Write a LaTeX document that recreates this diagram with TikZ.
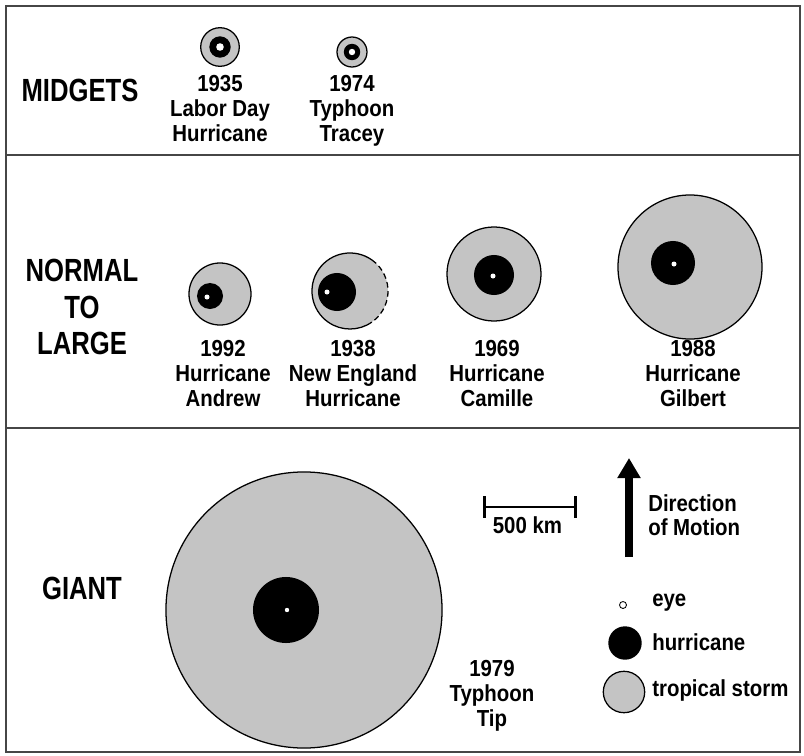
\documentclass[tikz,border=0pt]{standalone}
\usepackage{fontspec}
\setmainfont{Liberation Sans}[FakeStretch=0.88]
\newfontfamily\fonteTitulo{Liberation Sans}[FakeStretch=0.80]
\usetikzlibrary{arrows.meta, positioning}
\definecolor{cinza}{RGB}{196, 196, 196}
\definecolor{moldura}{RGB}{70, 70, 70}
\tikzset{
  secao/.style={
    font=\fonteTitulo\bfseries\fontsize{22.8}{26.2}\selectfont,
    align=center, inner sep=0pt
  },
  nome/.style={font=\bfseries\fontsize{16.5}{17.8}\selectfont, align=center, inner sep=0pt, anchor=north},
  chave/.style={font=\bfseries\fontsize{16.5}{17.5}\selectfont, align=left, inner sep=0pt},
  tempestade/.style={circle, draw, fill=cinza, line width=0.9pt, inner sep=0pt, outer sep=0pt},
  furacao/.style={circle, fill=black, inner sep=0pt, outer sep=0pt},
  olho/.style={circle, fill=white, inner sep=0pt, outer sep=0pt},
  divisa/.style={draw=moldura, line width=1.6pt},
  contorno/.style={line width=0.9pt},
}

\begin{document}
\begin{tikzpicture}[x=0.025cm, y=-0.025cm]
  \useasboundingbox (0,0) rectangle (804,756);

  % moldura e divisoes
  \coordinate (cantoA) at (6,6);
  \coordinate (cantoB) at (800,752);
  \coordinate (div1e) at (6,155);
  \coordinate (div1d) at (800,155);
  \coordinate (div2e) at (6,428);
  \coordinate (div2d) at (800,428);
  \draw[divisa] (cantoA) rectangle (cantoB);
  \draw[divisa] (div1e) -- (div1d);
  \draw[divisa] (div2e) -- (div2d);

  % titulos das secoes
  \node[secao] (midgets) at (80,90) {MIDGETS};
  \node[secao] (normal) at (82,307) {NORMAL\\TO\\LARGE};
  \node[secao] (giant) at (82,588.5) {GIANT};

  % midgets
  \node[tempestade, minimum size=0.965cm] (laborT) at (220,47) {};
  \node[furacao, minimum size=0.535cm] (laborH) at (laborT) {};
  \node[olho, minimum size=0.19cm] (laborO) at (laborT) {};
  \node[nome] (laborN) at (220,75) {1935\\Labor Day\\Hurricane};

  \node[tempestade, minimum size=0.75cm] (traceyT) at (352,52) {};
  \node[furacao, minimum size=0.41cm] (traceyH) at (traceyT) {};
  \node[olho, minimum size=0.16cm] (traceyO) at (traceyT) {};
  \node[nome] (traceyN) at (352,75) {1974\\Typhoon\\Tracey};

  % normal a grande
  \node[tempestade, minimum size=1.55cm] (andrewT) at (220,294) {};
  \node[furacao, minimum size=0.65cm] (andrewH) at (210,296) {};
  \node[olho, minimum size=0.125cm] (andrewO) at (207,297) {};
  \node[nome] (andrewN) at (223,340) {1992\\Hurricane\\Andrew};

  \node[tempestade, draw=none, minimum size=1.9cm] (neT) at (350,291) {};
  \draw[contorno] (neT.55) arc[start angle=55, end angle=305, radius=0.95cm];
  \draw[contorno, dash pattern=on 4pt off 2.5pt] (neT.55) arc[start angle=55, end angle=-55, radius=0.95cm];
  \node[furacao, minimum size=0.95cm] (neH) at (337,292) {};
  \node[olho, minimum size=0.125cm] (neO) at (327,292) {};
  \node[nome] (neN) at (353,340) {1938\\New England\\Hurricane};

  \node[tempestade, minimum size=2.35cm] (camilleT) at (494,274) {};
  \node[furacao, minimum size=1.0cm] (camilleH) at (494,275) {};
  \node[olho, minimum size=0.125cm] (camilleO) at (493,276) {};
  \node[nome] (camilleN) at (497,340) {1969\\Hurricane\\Camille};

  \node[tempestade, minimum size=3.6cm] (gilbertT) at (690,267) {};
  \node[furacao, minimum size=1.1cm] (gilbertH) at (673,263) {};
  \node[olho, minimum size=0.125cm] (gilbertO) at (674,264) {};
  \node[nome] (gilbertN) at (693,340) {1988\\Hurricane\\Gilbert};

  % gigante
  \node[tempestade, minimum size=6.9cm] (tipT) at (304,610) {};
  \node[furacao, minimum size=1.65cm] (tipH) at (286,610) {};
  \node[olho, minimum size=0.11cm] (tipO) at (287,610) {};
  \node[nome] (tipN) at (492,660) {1979\\Typhoon\\Tip};

  % escala
  \coordinate (escalaA) at (483,507);
  \coordinate (escalaB) at (577,507);
  \draw[line width=2pt, {Bar[width=0.53cm]}-{Bar[width=0.53cm]}] (escalaA) -- (escalaB);
  \node[chave] (escalaN) at (527.5,525.5) {500 km};

  % direcao
  \coordinate (setaBase) at (629,557);
  \coordinate (setaPonta) at (629,458);
  \draw[line width=0.2cm, -{Triangle[length=0.5cm, width=0.55cm]}] (setaBase) -- (setaPonta);
  \node[chave, anchor=north west] (direcao) at (648,494) {Direction\\of Motion};

  % legenda
  \node[olho, draw, line width=0.6pt, minimum size=0.175cm] (legOlho) at (623,605) {};
  \node[furacao, minimum size=0.835cm] (legFuracao) at (625,643) {};
  \node[tempestade, minimum size=1.035cm] (legTempestade) at (624,692) {};
  \node[chave, anchor=west] (legOlhoN) at (652,603) {eye};
  \node[chave, anchor=west] (legFuracaoN) at (652,642) {hurricane};
  \node[chave, anchor=west] (legTempestadeN) at (652,690) {tropical storm};
\end{tikzpicture}
\end{document}
